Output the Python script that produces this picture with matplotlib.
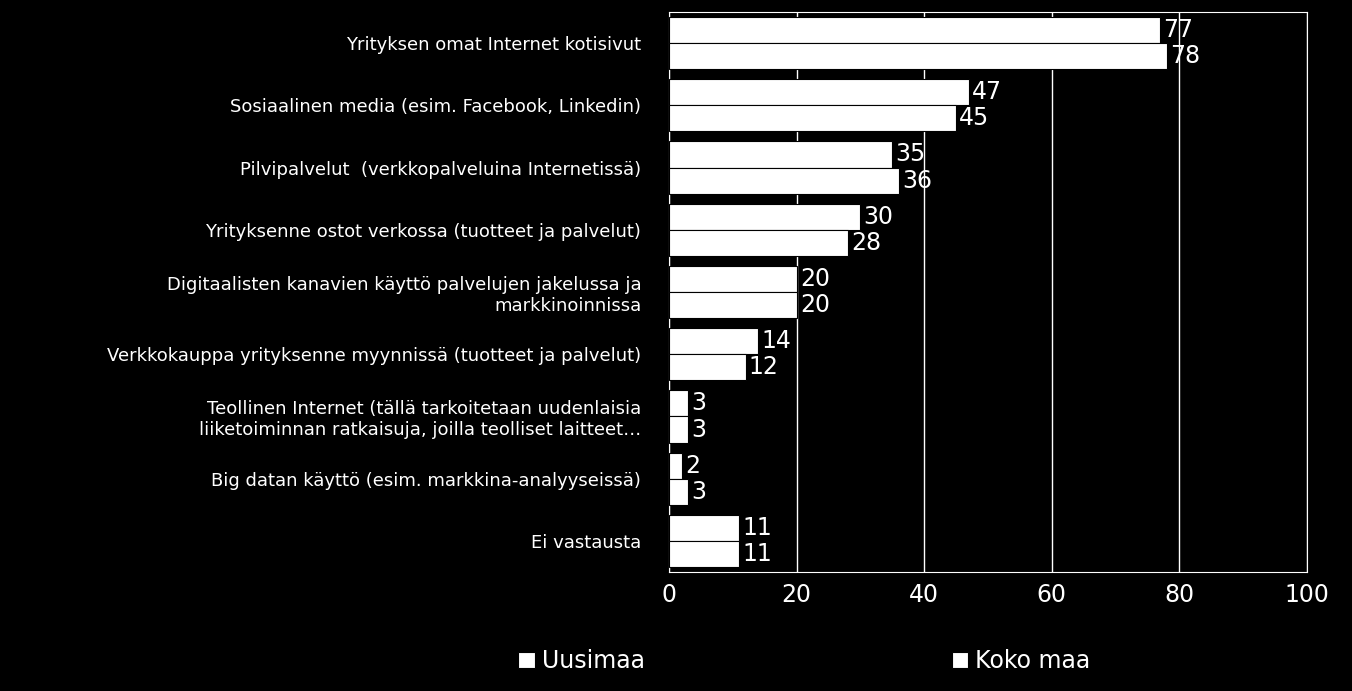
import matplotlib.pyplot as plt
import numpy as np

categories = ["Yrityksen omat Internet kotisivut",
              "Sosiaalinen media (esim. Facebook, Linkedin)",
              "Pilvipalvelut  (verkkopalveluina Internetissä)",
              "Yrityksenne ostot verkossa (tuotteet ja palvelut)",
              "Digitaalisten kanavien käyttö palvelujen jakelussa ja\nmarkkinoinnissa",
              "Verkkokauppa yrityksenne myynnissä (tuotteet ja palvelut)",
              "Teollinen Internet (tällä tarkoitetaan uudenlaisia\nliiketoiminnan ratkaisuja, joilla teolliset laitteet…",
              "Big datan käyttö (esim. markkina-analyyseissä)",
              "Ei vastausta"]
uusimaa = [77, 47, 35, 30, 20, 14, 3, 2, 11]
koko_maa = [78, 45, 36, 28, 20, 12, 3, 3, 11]
series_names = ["Uusimaa", "Koko maa"]

fig = plt.figure(figsize=(13.52, 6.91), dpi=100, facecolor="black")
ax = fig.add_axes([669/1352, 1-572/691, (1307-669)/1352, 560/691], facecolor="black")
y = np.arange(len(categories))
h = 0.42
b1 = ax.barh(y - h/2, uusimaa, height=h, color="white", edgecolor="black", linewidth=0.8, label=series_names[0], zorder=3)
b2 = ax.barh(y + h/2, koko_maa, height=h, color="white", edgecolor="black", linewidth=0.8, label=series_names[1], zorder=3)
for bars, vals in ((b1, uusimaa), (b2, koko_maa)):
    for r, v in zip(bars, vals):
        ax.text(v + 0.5, r.get_y() + r.get_height()/2, str(v), color="white", fontsize=17, va="center", ha="left", zorder=4)
ax.set_xlim(0, 100)
ax.set_ylim(len(categories) - 0.5, -0.5)
ax.set_xticks([0, 20, 40, 60, 80, 100])
ax.set_yticks(y)
ax.set_yticklabels(categories, fontsize=13, color="white")
ax.tick_params(axis="x", colors="white", labelsize=17, length=0, pad=8)
ax.tick_params(axis="y", length=0, pad=20)
ax.grid(axis="x", color="white", linewidth=1, zorder=0)
for s in ax.spines.values():
    s.set_color("white")
leg = fig.legend(handles=[b1, b2], labels=series_names, loc="lower center", ncol=2,
                 bbox_to_anchor=(0.595, -0.005), frameon=False, fontsize=17,
                 labelcolor="white", handlelength=0.7, handleheight=0.7, columnspacing=13, handletextpad=0.3)
fig.savefig("out.png", dpi=100, facecolor="black")
